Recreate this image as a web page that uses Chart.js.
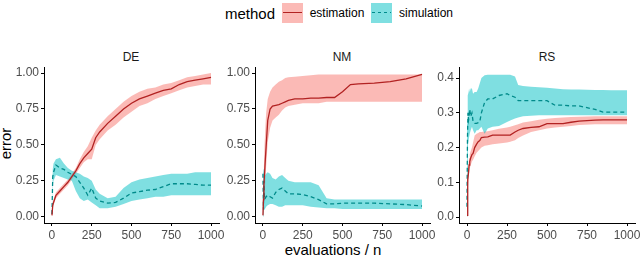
<!DOCTYPE html>
<html>
<head>
<meta charset="utf-8">
<script src="https://cdn.jsdelivr.net/npm/chart.js@4.4.1/dist/chart.umd.min.js"></script>
<style>
  body { margin: 0; background: #fff; font-family: "Liberation Sans", Arial, sans-serif; }
  #wrap { position: relative; width: 640px; height: 256px; overflow: hidden; }
  canvas { position: absolute; }
  .txt { position: absolute; line-height: 1; white-space: nowrap; transform: translate(-50%, -50%); }
  .sw { position: absolute; width: 21px; height: 20px; }
  .sw i { position: absolute; left: 1px; right: 1px; top: 9px; height: 1.4px; }
  #ytitle { position: absolute; left: 0; top: 100px; }
</style>
</head>
<body>
<div id="wrap">
  <div class="txt" style="left:250px;top:13px;font-size:15px;">method</div>
  <div class="sw" style="left:282px;top:3px;background:rgba(248,118,109,0.5);"><i style="background:#b22222;"></i></div>
  <div class="txt" style="left:337px;top:13px;font-size:12px;">estimation</div>
  <div class="sw" style="left:371px;top:3px;background:rgba(0,191,196,0.5);"><i style="background:repeating-linear-gradient(90deg,#008b8b 0 3px,transparent 3px 6px);"></i></div>
  <div class="txt" style="left:426px;top:13px;font-size:12px;">simulation</div>

  <div class="txt" style="left:131px;top:57px;font-size:12px;color:#1a1a1a;">DE</div>
  <div class="txt" style="left:342px;top:57px;font-size:12px;color:#1a1a1a;">NM</div>
  <div class="txt" style="left:547px;top:57px;font-size:12px;color:#1a1a1a;">RS</div>

  <svg id="ytitle" width="20" height="90"><text transform="translate(10.5,43.5) rotate(-90)" text-anchor="middle" font-family="Liberation Sans, Arial, sans-serif" font-size="15">error</text></svg>
  <div class="txt" style="left:333px;top:249px;font-size:15px;">evaluations / n</div>

  <canvas id="de"></canvas>
  <canvas id="nm"></canvas>
  <canvas id="rs"></canvas>
</div>
<script>
const xTicks = [0, 250, 500, 750, 1000];
const yTicksUnit = [0, 0.25, 0.5, 0.75, 1.0];
const yTicksRS = [0, 0.1, 0.2, 0.3, 0.4];

// DE
const deN = [0, 5, 10, 25, 50, 75, 100, 125, 150, 175, 200, 225, 250, 275, 300, 350, 400, 450, 500, 550, 600, 650, 700, 750, 800, 850, 900, 950, 1000];
const deEstMean = [0.01, 0.08, 0.10, 0.15, 0.18, 0.21, 0.24, 0.28, 0.32, 0.37, 0.41, 0.44, 0.47, 0.55, 0.59, 0.65, 0.70, 0.75, 0.79, 0.82, 0.84, 0.86, 0.88, 0.89, 0.92, 0.94, 0.95, 0.96, 0.97];
const deEstLow = [0.00, 0.06, 0.08, 0.13, 0.16, 0.19, 0.22, 0.26, 0.30, 0.34, 0.38, 0.40, 0.40, 0.50, 0.54, 0.60, 0.64, 0.69, 0.73, 0.77, 0.79, 0.82, 0.84, 0.86, 0.88, 0.90, 0.91, 0.92, 0.92];
const deEstHigh = [0.02, 0.10, 0.12, 0.17, 0.20, 0.23, 0.26, 0.30, 0.34, 0.40, 0.45, 0.49, 0.55, 0.60, 0.64, 0.70, 0.75, 0.80, 0.84, 0.87, 0.89, 0.90, 0.92, 0.93, 0.95, 0.97, 0.98, 0.99, 1.00];
const deSimMean = [0.02, 0.28, 0.31, 0.36, 0.34, 0.33, 0.31, 0.295, 0.28, 0.24, 0.20, 0.15, 0.20, 0.13, 0.11, 0.095, 0.10, 0.13, 0.165, 0.175, 0.185, 0.19, 0.21, 0.23, 0.23, 0.23, 0.225, 0.22, 0.22];
const deSimLow = [0.00, 0.22, 0.25, 0.29, 0.28, 0.27, 0.26, 0.25, 0.18, 0.13, 0.11, 0.12, 0.10, 0.08, 0.06, 0.06, 0.07, 0.09, 0.11, 0.12, 0.13, 0.14, 0.14, 0.15, 0.15, 0.15, 0.15, 0.15, 0.15];
const deSimHigh = [0.05, 0.33, 0.37, 0.40, 0.41, 0.37, 0.34, 0.32, 0.31, 0.30, 0.28, 0.27, 0.25, 0.19, 0.16, 0.13, 0.14, 0.20, 0.24, 0.26, 0.27, 0.28, 0.29, 0.30, 0.30, 0.30, 0.31, 0.31, 0.31];

// NM
const nmN = [0, 3, 6, 10, 15, 20, 30, 45, 60, 80, 100, 120, 140, 160, 200, 250, 300, 350, 400, 450, 500, 550, 600, 700, 800, 900, 1000];
const nmEstMean = [0.01, 0.12, 0.22, 0.30, 0.40, 0.49, 0.67, 0.75, 0.77, 0.775, 0.78, 0.79, 0.80, 0.81, 0.82, 0.82, 0.825, 0.825, 0.83, 0.83, 0.87, 0.92, 0.925, 0.93, 0.94, 0.96, 0.99];
const nmEstLow = [0.00, 0.05, 0.10, 0.15, 0.25, 0.35, 0.52, 0.62, 0.67, 0.69, 0.71, 0.74, 0.76, 0.77, 0.78, 0.79, 0.79, 0.79, 0.80, 0.80, 0.80, 0.80, 0.80, 0.80, 0.80, 0.80, 0.80];
const nmEstHigh = [0.02, 0.20, 0.35, 0.50, 0.62, 0.72, 0.82, 0.87, 0.90, 0.92, 0.94, 0.95, 0.965, 0.97, 0.975, 0.98, 0.985, 0.99, 0.99, 0.99, 0.99, 0.99, 0.99, 0.99, 0.99, 0.99, 0.99];
const nmSimMean = [0.30, 0.05, 0.25, 0.12, 0.13, 0.14, 0.15, 0.14, 0.13, 0.17, 0.19, 0.20, 0.18, 0.16, 0.16, 0.155, 0.14, 0.12, 0.09, 0.09, 0.095, 0.095, 0.095, 0.095, 0.09, 0.085, 0.075];
const nmSimLow = [0.00, 0.00, 0.05, 0.05, 0.06, 0.07, 0.08, 0.09, 0.09, 0.08, 0.07, 0.07, 0.08, 0.08, 0.08, 0.08, 0.07, 0.065, 0.06, 0.06, 0.055, 0.055, 0.055, 0.055, 0.055, 0.055, 0.055];
const nmSimHigh = [0.33, 0.33, 0.30, 0.28, 0.29, 0.30, 0.31, 0.30, 0.27, 0.26, 0.28, 0.29, 0.27, 0.25, 0.24, 0.24, 0.24, 0.22, 0.13, 0.12, 0.12, 0.12, 0.12, 0.12, 0.12, 0.12, 0.12];

// RS
const rsN = [0, 3, 6, 10, 13, 17, 23, 31, 38, 48, 60, 70, 80, 90, 110, 130, 160, 200, 250, 270, 300, 320, 350, 400, 450, 500, 550, 600, 650, 700, 800, 850, 900, 1000];
const rsEstMean = [0.005, 0.08, 0.107, 0.13, 0.15, 0.16, 0.17, 0.18, 0.183, 0.20, 0.21, 0.217, 0.22, 0.229, 0.23, 0.231, 0.236, 0.236, 0.236, 0.236, 0.245, 0.25, 0.255, 0.258, 0.26, 0.269, 0.269, 0.269, 0.273, 0.276, 0.279, 0.28, 0.28, 0.28];
const rsEstLow = [0.00, 0.06, 0.09, 0.11, 0.13, 0.14, 0.15, 0.16, 0.165, 0.175, 0.185, 0.19, 0.195, 0.20, 0.205, 0.207, 0.21, 0.212, 0.215, 0.217, 0.221, 0.228, 0.235, 0.245, 0.25, 0.255, 0.258, 0.26, 0.262, 0.265, 0.267, 0.267, 0.267, 0.267];
const rsEstHigh = [0.01, 0.10, 0.125, 0.15, 0.17, 0.18, 0.19, 0.20, 0.215, 0.235, 0.24, 0.242, 0.245, 0.245, 0.246, 0.247, 0.25, 0.254, 0.258, 0.26, 0.264, 0.267, 0.272, 0.276, 0.28, 0.283, 0.285, 0.287, 0.288, 0.289, 0.29, 0.29, 0.29, 0.29];
const rsSimMean = [0.03, 0.23, 0.30, 0.28, 0.29, 0.31, 0.29, 0.30, 0.275, 0.27, 0.27, 0.272, 0.275, 0.30, 0.33, 0.34, 0.34, 0.35, 0.355, 0.35, 0.345, 0.335, 0.335, 0.335, 0.335, 0.335, 0.322, 0.322, 0.32, 0.32, 0.31, 0.302, 0.302, 0.302];
const rsSimLow = [0.00, 0.15, 0.21, 0.22, 0.23, 0.24, 0.25, 0.26, 0.25, 0.24, 0.25, 0.25, 0.255, 0.26, 0.24, 0.255, 0.26, 0.262, 0.274, 0.278, 0.284, 0.287, 0.29, 0.292, 0.293, 0.293, 0.293, 0.293, 0.293, 0.293, 0.293, 0.293, 0.293, 0.293];
const rsSimHigh = [0.27, 0.33, 0.35, 0.36, 0.37, 0.36, 0.37, 0.37, 0.355, 0.36, 0.36, 0.37, 0.385, 0.40, 0.408, 0.41, 0.41, 0.41, 0.41, 0.41, 0.405, 0.38, 0.377, 0.375, 0.374, 0.372, 0.37, 0.368, 0.367, 0.367, 0.366, 0.366, 0.365, 0.365];

const FONT = '"Liberation Sans", Arial, sans-serif';
const estLine = '#b22222', estFill = 'rgba(248,118,109,0.5)';
const simLine = '#008b8b', simFill = 'rgba(0,191,196,0.5)';

function pts(n, v) {
    return n.map((x, i) => ({ x: x, y: v[i] }));
}

function makePanel(id, left, right, n, est, sim, yMin, yMax, yTicks, digits) {
    const canvas = document.getElementById(id);
    const yw = 44, padR = 8, top = 55;
    const w = right - left + yw + padR;
    canvas.width = w;
    canvas.height = 250 - top;
    canvas.style.left = (left - yw) + 'px';
    canvas.style.top = top + 'px';

    const axis = (ticks, fmt, fit) => ({
        type: 'linear',
        afterBuildTicks: s => { s.ticks = ticks.map(v => ({ value: v })); },
        afterFit: fit,
        border: { display: true, color: '#000', width: 1 },
        grid: { drawOnChartArea: false, drawTicks: true, tickLength: 3, color: '#000', lineWidth: 1 },
        ticks: { color: '#4d4d4d', font: { size: 12, family: FONT }, padding: 2, maxRotation: 0, autoSkip: false, callback: fmt }
    });

    const ribbon = (v, color, fill) => ({
        data: pts(n, v), borderWidth: 0, pointRadius: 0, backgroundColor: color, fill: fill
    });

    new Chart(canvas, {
        type: 'line',
        data: {
            datasets: [
                { data: pts(n, est[0]), borderColor: estLine, borderWidth: 1.3, pointRadius: 0, fill: false },
                { data: pts(n, sim[0]), borderColor: simLine, borderWidth: 1.3, borderDash: [4, 3], pointRadius: 0, fill: false },
                ribbon(sim[1], simFill, false),
                ribbon(sim[2], simFill, '-1'),
                ribbon(est[1], estFill, false),
                ribbon(est[2], estFill, '-1')
            ]
        },
        options: {
            responsive: false,
            animation: false,
            layout: { padding: { top: 12, right: padR, left: 0, bottom: 0 } },
            plugins: { legend: { display: false }, tooltip: { enabled: false } },
            elements: { line: { tension: 0 } },
            scales: {
                x: Object.assign(axis(xTicks, v => String(v), s => { s.height = 27; }), { min: -50, max: 1050 }),
                y: Object.assign(axis(yTicks, v => v.toFixed(digits), s => { s.width = yw; }), { min: yMin, max: yMax })
            }
        }
    });
}

makePanel('de', 44, 219, deN, [deEstMean, deEstLow, deEstHigh], [deSimMean, deSimLow, deSimHigh], -0.043, 1.042, yTicksUnit, 2);
makePanel('nm', 255, 430, nmN, [nmEstMean, nmEstLow, nmEstHigh], [nmSimMean, nmSimLow, nmSimHigh], -0.043, 1.042, yTicksUnit, 2);
makePanel('rs', 459, 635, rsN, [rsEstMean, rsEstLow, rsEstHigh], [rsSimMean, rsSimLow, rsSimHigh], -0.017, 0.432, yTicksRS, 1);
</script>
</body>
</html>
